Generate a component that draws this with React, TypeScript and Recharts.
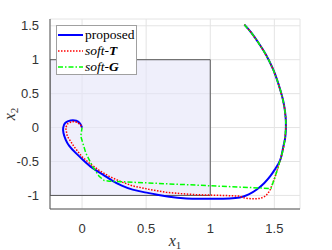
import { LineChart, Line, XAxis, YAxis, CartesianGrid, ReferenceArea, Legend } from "recharts";

const xTicks = [0, 0.5, 1, 1.5];
const yTicks = [-1, -0.5, 0, 0.5, 1, 1.5];

// shaded region (x1 <= 1, |x2| <= 1)
const boxX = [-0.25, 1];
const boxY = [-1, 1];

// trajectories (start top right, end at origin)
const proposed: [number, number][] = [
  [1.266, 1.517], [1.32, 1.4], [1.376, 1.25], [1.42, 1.12], [1.455, 1.0], [1.49, 0.86],
  [1.52, 0.71], [1.547, 0.55], [1.567, 0.41], [1.58, 0.28], [1.588, 0.15], [1.59, 0.02],
  [1.588, -0.08], [1.582, -0.18], [1.568, -0.3], [1.547, -0.471], [1.51, -0.6],
  [1.468, -0.717], [1.42, -0.82], [1.363, -0.913], [1.3, -0.985], [1.23, -1.03],
  [1.15, -1.045], [1.05, -1.05], [0.92, -1.05], [0.814, -1.045], [0.68, -1.02],
  [0.578, -0.985], [0.49, -0.955], [0.395, -0.915], [0.31, -0.855], [0.238, -0.785],
  [0.16, -0.69], [0.081, -0.594], [0.01, -0.48], [-0.05, -0.373], [-0.1, -0.27],
  [-0.128, -0.177], [-0.145, -0.08], [-0.147, 0], [-0.13, 0.07], [-0.089, 0.105],
  [-0.045, 0.1], [-0.015, 0.06], [0, 0],
];

const softT: [number, number][] = [
  [1.266, 1.517], [1.32, 1.4], [1.376, 1.25], [1.42, 1.12], [1.455, 1.0], [1.49, 0.86],
  [1.52, 0.71], [1.547, 0.55], [1.567, 0.41], [1.58, 0.28], [1.588, 0.15], [1.59, 0.02],
  [1.586, -0.1], [1.578, -0.226], [1.565, -0.35], [1.547, -0.471], [1.527, -0.6],
  [1.507, -0.717], [1.488, -0.82], [1.468, -0.913], [1.45, -0.97], [1.43, -1.01],
  [1.39, -1.046], [1.32, -1.05], [1.27, -1.04], [1.23, -1.01], [1.1, -1.0],
  [1.0, -0.995], [0.9, -0.99], [0.78, -0.975], [0.657, -0.955], [0.52, -0.91],
  [0.395, -0.86], [0.3, -0.795], [0.212, -0.72], [0.133, -0.63], [0.06, -0.53],
  [0.0, -0.43], [-0.063, -0.28], [-0.115, -0.128], [-0.128, 0], [-0.11, 0.06],
  [-0.076, 0.09], [-0.04, 0.08], [-0.012, 0.04], [0, 0],
];

const softG: [number, number][] = [
  [1.266, 1.517], [1.32, 1.4], [1.376, 1.25], [1.42, 1.12], [1.455, 1.0], [1.49, 0.86],
  [1.52, 0.71], [1.547, 0.55], [1.567, 0.41], [1.58, 0.28], [1.588, 0.15], [1.59, 0.02],
  [1.586, -0.1], [1.578, -0.226], [1.565, -0.35], [1.547, -0.471], [1.527, -0.6],
  [1.507, -0.717], [1.49, -0.81], [1.473, -0.898], [0.212, -0.79], [0.173, -0.78],
  [0.133, -0.717], [0.081, -0.57], [0.029, -0.373], [-0.01, -0.128], [0, 0],
];

const toPts = (arr: [number, number][]) => arr.map(([x, y]) => ({ x, y }));

const serif = "'Liberation Serif', 'Times New Roman', serif";

const legendRows = [
  { name: "proposed", color: "#0000ff", dash: undefined as string | undefined, width: 2 },
  { name: "soft-T", color: "#ff0000", dash: "1.5 1.5", width: 1.5 },
  { name: "soft-G", color: "#00ff00", dash: "5 2 1.5 2", width: 1.5 },
];

function LegendBox() {
  return (
    <div
      style={{
        width: 79,
        height: 47,
        border: "1px solid #a0a0a0",
        background: "#fff",
        fontFamily: serif,
        fontSize: 13.5,
        paddingTop: 1,
      }}
    >
      {legendRows.map((r) => (
        <div key={r.name} style={{ display: "flex", alignItems: "center", height: 16, lineHeight: "16px" }}>
          <svg width={27} height={10} style={{ marginRight: 1 }}>
            <line x1={1} y1={5} x2={26} y2={5} stroke={r.color} strokeWidth={r.width} strokeDasharray={r.dash} />
          </svg>
          {r.name === "proposed" ? (
            <span>proposed</span>
          ) : (
            <span>
              <i>soft</i>-<b><i>{r.name.slice(-1)}</i></b>
            </span>
          )}
        </div>
      ))}
    </div>
  );
}

function XLabel(props: any) {
  const { viewBox } = props;
  const cx = viewBox.x + viewBox.width / 2;
  return (
    <text x={cx} y={viewBox.y + 37} textAnchor="middle" fontFamily={serif} fontSize={16} fill="#333">
      <tspan fontStyle="italic">x</tspan>
      <tspan fontSize={11} dy={3}>1</tspan>
    </text>
  );
}

function YLabel(props: any) {
  const { viewBox } = props;
  const cy = viewBox.y + viewBox.height / 2;
  const x = 15;
  return (
    <text
      x={x}
      y={cy}
      textAnchor="middle"
      transform={`rotate(-90 ${x} ${cy})`}
      fontFamily={serif}
      fontSize={16}
      fill="#333"
    >
      <tspan fontStyle="italic">x</tspan>
      <tspan fontSize={11} dy={3}>2</tspan>
    </text>
  );
}

export default function App() {
  const tick = { fontSize: 13, fill: "#333", fontFamily: "'Liberation Sans', Arial, sans-serif" };
  return (
    <div style={{ position: "absolute", left: 0, top: 0, background: "#fff" }}>
      <LineChart width={332} height={250} margin={{ top: 19, right: 32, bottom: 0, left: 0 }}>
        <CartesianGrid stroke="#e4e4e4" strokeWidth={1} />
        <ReferenceArea
          x1={boxX[0]}
          x2={boxX[1]}
          y1={boxY[0]}
          y2={boxY[1]}
          fill="#e4e4f8"
          fillOpacity={0.6}
          stroke="#555"
          strokeWidth={1}
          ifOverflow="hidden"
        />
        <XAxis
          type="number"
          dataKey="x"
          domain={[-0.25, 1.7]}
          ticks={xTicks}
          allowDataOverflow
          height={41}
          tickLine={false}
          tickMargin={9}
          stroke="#555"
          tick={tick}
          label={<XLabel />}
        />
        <YAxis
          type="number"
          dataKey="y"
          domain={[-1.2, 1.6]}
          ticks={yTicks}
          allowDataOverflow
          width={50}
          tickLine={false}
          tickMargin={5}
          stroke="#555"
          tick={tick}
          label={<YLabel />}
        />
        <Legend
          layout="vertical"
          align="center"
          verticalAlign="middle"
          content={() => <LegendBox />}
          wrapperStyle={{ left: 56, top: 25, width: 81, height: 49 }}
        />
        <Line
          data={toPts(proposed)}
          dataKey="y"
          name="proposed"
          type="natural"
          stroke="#0000ff"
          strokeWidth={2}
          dot={false}
          isAnimationActive={false}
        />
        <Line
          data={toPts(softT)}
          dataKey="y"
          name="soft-T"
          type="linear"
          stroke="#ff0000"
          strokeWidth={1.5}
          strokeDasharray="1.5 1.5"
          dot={false}
          isAnimationActive={false}
        />
        <Line
          data={toPts(softG)}
          dataKey="y"
          name="soft-G"
          type="linear"
          stroke="#00ff00"
          strokeWidth={1.5}
          strokeDasharray="5 2 1.5 2"
          dot={false}
          isAnimationActive={false}
        />
      </LineChart>
    </div>
  );
}
